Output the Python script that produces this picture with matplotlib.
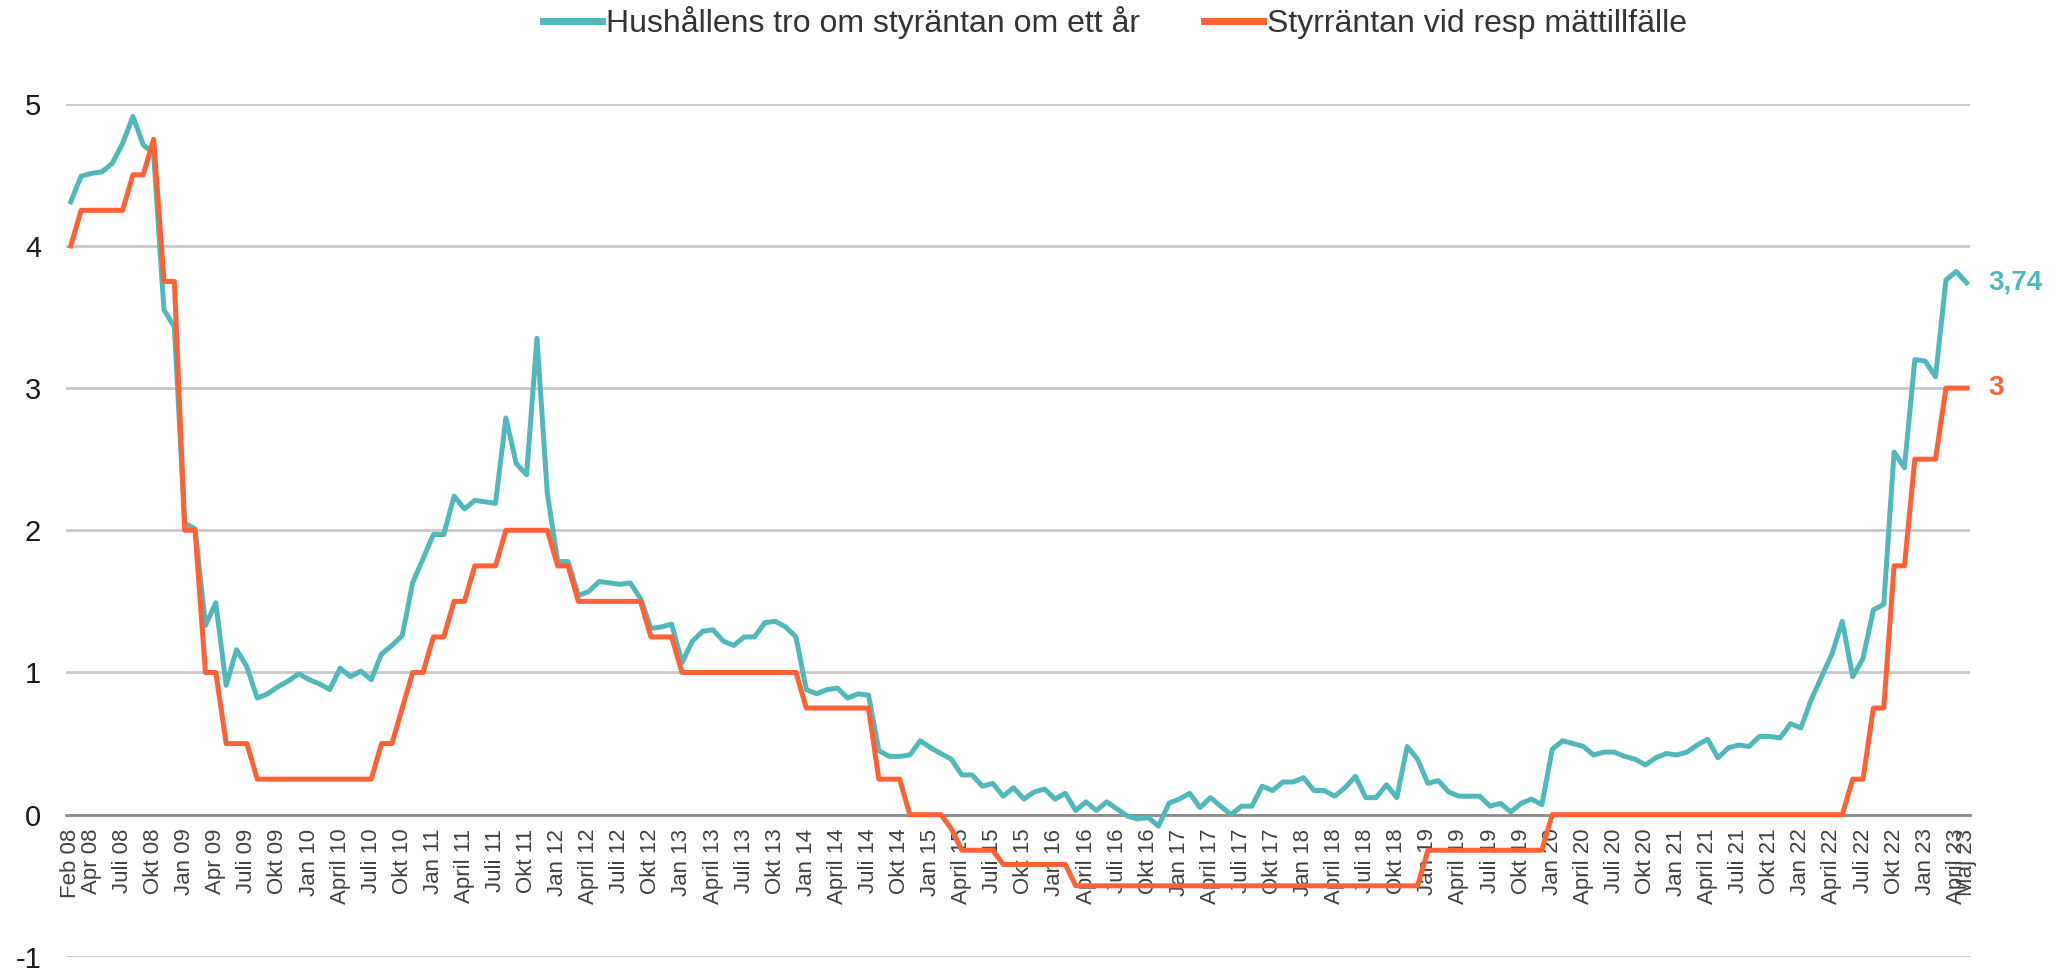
import numpy as np
import matplotlib.pyplot as plt

plt.rcParams['font.family'] = ['Liberation Sans', 'DejaVu Sans']
plt.rcParams['axes.unicode_minus'] = False

# Hushållens förväntningar på styrräntan om ett år, månadsvis feb 2008 - maj 2023
hushall = [
    4.31, 4.49, 4.51, 4.52, 4.58, 4.72, 4.91, 4.71, 4.65, 3.55, 3.43, 2.05,
    2.01, 1.33, 1.49, 0.91, 1.16, 1.04, 0.82, 0.85, 0.90, 0.94, 0.99, 0.95,
    0.92, 0.88, 1.03, 0.97, 1.01, 0.95, 1.13, 1.19, 1.26, 1.63, 1.80, 1.97,
    1.97, 2.24, 2.15, 2.21, 2.20, 2.19, 2.79, 2.47, 2.39, 3.35, 2.26, 1.78,
    1.78, 1.54, 1.57, 1.64, 1.63, 1.62, 1.63, 1.52, 1.31, 1.32, 1.34, 1.07,
    1.22, 1.29, 1.30, 1.22, 1.19, 1.25, 1.25, 1.35, 1.36, 1.32, 1.25, 0.88,
    0.85, 0.88, 0.89, 0.82, 0.85, 0.84, 0.45, 0.41, 0.41, 0.42, 0.52, 0.47,
    0.43, 0.39, 0.28, 0.28, 0.20, 0.22, 0.13, 0.19, 0.11, 0.16, 0.18, 0.11,
    0.15, 0.03, 0.09, 0.03, 0.09, 0.04, -0.01, -0.03, -0.02, -0.08, 0.08, 0.11,
    0.15, 0.05, 0.12, 0.06, 0.00, 0.06, 0.06, 0.20, 0.17, 0.23, 0.23, 0.26,
    0.17, 0.17, 0.13, 0.19, 0.27, 0.12, 0.12, 0.21, 0.12, 0.48, 0.39, 0.22,
    0.24, 0.16, 0.13, 0.13, 0.13, 0.06, 0.08, 0.02, 0.08, 0.11, 0.07, 0.46,
    0.52, 0.50, 0.48, 0.42, 0.44, 0.44, 0.41, 0.39, 0.35, 0.40, 0.43, 0.42,
    0.44, 0.49, 0.53, 0.40, 0.47, 0.49, 0.48, 0.55, 0.55, 0.54, 0.64, 0.61,
    0.81, 0.97, 1.13, 1.36, 0.97, 1.10, 1.44, 1.48, 2.55, 2.44, 3.20, 3.19,
    3.08, 3.76, 3.82, 3.74,
]

# Styrräntan vid respektive mättillfälle
styrranta = (
    [4.0] + [4.25] * 5 + [4.5] * 2 + [4.75] + [3.75] * 2 + [2.0] * 2
    + [1.0] * 2 + [0.5] * 3 + [0.25] * 12 + [0.5] * 2 + [0.75] + [1.0] * 2
    + [1.25] * 2 + [1.5] * 2 + [1.75] * 3 + [2.0] * 5 + [1.75] * 2
    + [1.5] * 7 + [1.25] * 3 + [1.0] * 12 + [0.75] * 7 + [0.25] * 3
    + [0.0] * 4 + [-0.1] + [-0.25] * 4 + [-0.35] * 7 + [-0.5] * 34
    + [-0.25] * 12 + [0.0] * 29 + [0.25] * 2 + [0.75] * 2 + [1.75] * 2
    + [2.5] * 3 + [3.0] * 3
)

manader = ['Jan', 'Feb', 'Mar', 'April', 'Maj', 'Juni',
           'Juli', 'Aug', 'Sep', 'Okt', 'Nov', 'Dec']

serie_namn = ['Hushållens tro om styräntan om ett år',
              'Styrräntan vid resp mättillfälle']

teal = '#52B7BA'
orange = '#FF6035'

# kategorietiketter, en per månad från feb 2008
n = len(hushall)
etiketter = []
visas = []
for i in range(n):
    m = (1 + i) % 12
    ar = 2008 + (1 + i) // 12
    namn = manader[m]
    if namn == 'April' and ar < 2010:
        namn = 'Apr'
    etiketter.append('%s %02d' % (namn, ar % 100))
    if i == 0 or i == n - 1 or m in (0, 3, 6, 9):
        visas.append(i)

x = np.arange(n)

fig = plt.figure(figsize=(20.59, 9.69), dpi=100)
ax = fig.add_axes([0.0321, 0.0125, 0.9247, 0.8805])

ax.plot(x, hushall, color=teal, lw=3.6, label=serie_namn[0], solid_joinstyle='round')
ax.plot(x, styrranta, color=orange, lw=3.6, label=serie_namn[1], solid_joinstyle='round')

ax.set_xlim(-0.45, n - 1 + 0.33)
ax.set_ylim(-1, 5)
ax.set_yticks(range(-1, 6))
ax.yaxis.grid(True, color='#C8C8C8', lw=2)
ax.set_axisbelow(True)

for s in ['top', 'right', 'left']:
    ax.spines[s].set_visible(False)
ax.spines['bottom'].set_position(('data', 0))
ax.spines['bottom'].set_color('#8C8C8C')
ax.spines['bottom'].set_linewidth(2)
ax.spines['bottom'].set_zorder(1.5)

ax.set_xticks(visas)
ax.set_xticklabels([etiketter[i] for i in visas], rotation=90, fontsize=16, color='#404040')
ax.tick_params(axis='x', length=0, pad=10)
ax.tick_params(axis='y', length=0, pad=18, labelsize=21, labelcolor='#1a1a1a')

# värden vid sista punkten
for serie, farg in [(hushall, teal), (styrranta, orange)]:
    v = serie[-1]
    ax.annotate(('%g' % v).replace('.', ','), xy=(n - 1, v), xytext=(22, 0),
                textcoords='offset pixels', va='center', ha='left',
                fontsize=20, fontweight='bold', color=farg, annotation_clip=False)

fig.legend(loc='center', bbox_to_anchor=(0.5415, 0.977), ncol=2, frameon=False,
           fontsize=23, handlelength=1.85, handletextpad=0.12, columnspacing=2.0,
           labelcolor='#333333')
for line in fig.legends[0].get_lines():
    line.set_linewidth(5)

fig.savefig('out.png', dpi=100)
